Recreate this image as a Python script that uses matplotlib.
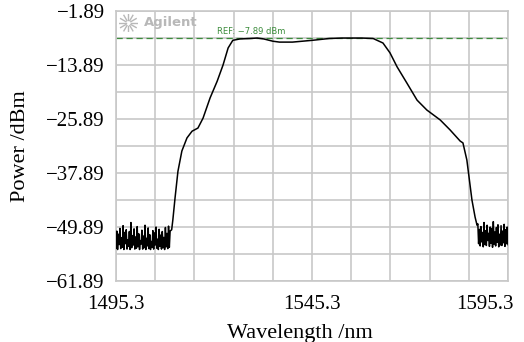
import numpy as np
import matplotlib
matplotlib.use("Agg")
import matplotlib.pyplot as plt
from matplotlib.transforms import ScaledTranslation

# OSA trace
noise_left = [-54.6, -50.8, -54.9, -51.5, -53.8, -50.2, -54.7, -52.3, -54.4, -49.6,
              -54.9, -51.1, -53.6, -50.5, -54.8, -52.7, -54.2, -50.9, -54.9, -48.9,
              -54.5, -51.8, -53.9, -50.3, -54.8, -52.1, -54.6, -49.8, -54.3, -51.4,
              -54.9, -52.9, -53.7, -50.6, -54.8, -51.9, -54.5, -49.5, -54.9, -52.4,
              -54.1, -50.1, -54.7, -51.6, -54.9, -53.1, -54.4, -50.7, -54.8, -51.2,
              -53.9, -49.9, -54.6, -52.6, -54.9, -50.4, -54.2, -51.7, -54.8, -50.9,
              -54.5, -52.2, -54.9, -50.0, -54.3, -51.3, -54.7, -49.7, -54.4, -50.8]
noise_right = [-49.2, -53.6, -50.4, -54.1, -49.8, -53.2, -51.1, -54.3, -48.9, -53.8,
               -50.7, -54.0, -49.5, -52.9, -51.3, -54.2, -49.9, -53.5, -50.2, -54.4,
               -48.7, -53.7, -51.0, -54.1, -50.0, -53.3, -49.4, -54.3, -51.5, -53.9,
               -49.6, -54.0, -50.8, -53.4, -49.3, -54.2, -50.5, -53.6, -49.9, -53.8]

signal_wl = [1509.5, 1509.8, 1510.35, 1511.1, 1512.1, 1513.4, 1514.7, 1516.2, 1517.5,
             1519.3, 1521.1, 1522.6, 1523.9, 1525.1, 1526.9, 1529.5, 1531.3, 1533.0,
             1535.3, 1537.0, 1540.3, 1545.4, 1549.7, 1553.0, 1558.0, 1560.9, 1563.4,
             1565.2, 1567.0, 1569.5, 1572.1, 1574.6, 1578.0, 1580.5, 1583.1, 1583.8,
             1584.8, 1586.1, 1586.9, 1587.4]
signal_pw = [-50.5, -48.3, -43.5, -37.5, -33.0, -30.1, -28.6, -27.9, -25.7,
             -21.2, -17.5, -13.9, -10.1, -8.4, -8.1, -8.0, -7.9, -8.1,
             -8.6, -8.8, -8.8, -8.4, -8.0, -7.9, -7.9, -8.0, -9.0,
             -11.2, -14.3, -17.9, -21.7, -23.9, -26.1, -28.3, -30.8, -31.2,
             -35.0, -43.9, -47.7, -49.5]

ref_level = -7.89
x_ticks = [1495.3, 1545.3, 1595.3]
y_ticks = [-61.89, -49.89, -37.89, -25.89, -13.89, -1.89]

wl = np.concatenate([np.linspace(1495.3, 1509.1, len(noise_left)),
                     signal_wl,
                     np.linspace(1587.6, 1595.3, len(noise_right))])
pw = np.concatenate([noise_left, signal_pw, noise_right])

plt.rcParams['font.family'] = 'Liberation Serif'
fig = plt.figure(figsize=(5.24, 3.42), dpi=100)
ax = fig.add_axes([0.2214, 0.1784, 0.7481, 0.7894])

grid_c = '#c8c8c8'
ax.plot(wl, pw, color='black', lw=1.1, zorder=3)
ax.axhline(ref_level, color='#3c8c3c', lw=0.9, ls=(0, (5, 3)), zorder=2)
ax.text(1521.1, ref_level + 0.5, 'REF: \u22127.89 dBm', family='DejaVu Sans',
        fontsize=6, color='#3c8c3c', va='bottom', ha='left')

ax.set_xlim(1495.3, 1595.3)
ax.set_ylim(-61.89, -1.89)
ax.set_xticks(x_ticks)
ax.set_xticklabels([f'{v:.1f}' for v in x_ticks])
ax.set_yticks(y_ticks)
ax.set_yticklabels([f'{v:.2f}'.replace('-', '\u2212') for v in y_ticks])
ax.set_xticks(np.linspace(1495.3, 1595.3, 11), minor=True)
ax.set_yticks(np.linspace(-61.89, -1.89, 11), minor=True)
ax.grid(which='both', color=grid_c, lw=1.2)
ax.tick_params(which='both', length=0, labelsize=15)
ax.tick_params(axis='y', pad=8)
ax.tick_params(axis='x', pad=10)
for s in ax.spines.values():
    s.set_color(grid_c)
    s.set_linewidth(1.2)

# last x label sits inside the right edge, as on the instrument print
last = ax.get_xticklabels()[-1]
last.set_horizontalalignment('right')
last.set_transform(last.get_transform() + ScaledTranslation(4 / 72, 0, fig.dpi_scale_trans))

ax.set_xlabel('Wavelength /nm', fontsize=16)
ax.xaxis.set_label_coords(0.469, -0.16)
ax.set_ylabel('Power /dBm', fontsize=16)
ax.yaxis.set_label_coords(-0.219, 0.5)

# Agilent logo in the corner
logo = fig.add_axes([0.227, 0.905, 0.036, 0.055])
logo.set_xlim(-1, 1)
logo.set_ylim(-1, 1)
logo.axis('off')
for a in np.arange(0, 360, 30):
    r = np.deg2rad(a)
    logo.plot([0.3 * np.cos(r), 0.95 * np.cos(r)], [0.3 * np.sin(r), 0.95 * np.sin(r)],
              color='#b8b8b8', lw=1.0)
fig.text(0.275, 0.935, 'Agilent', family='DejaVu Sans', fontweight='bold',
         fontsize=9.5, color='#b8b8b8', va='center', ha='left')

fig.savefig('out.png', dpi=100)
